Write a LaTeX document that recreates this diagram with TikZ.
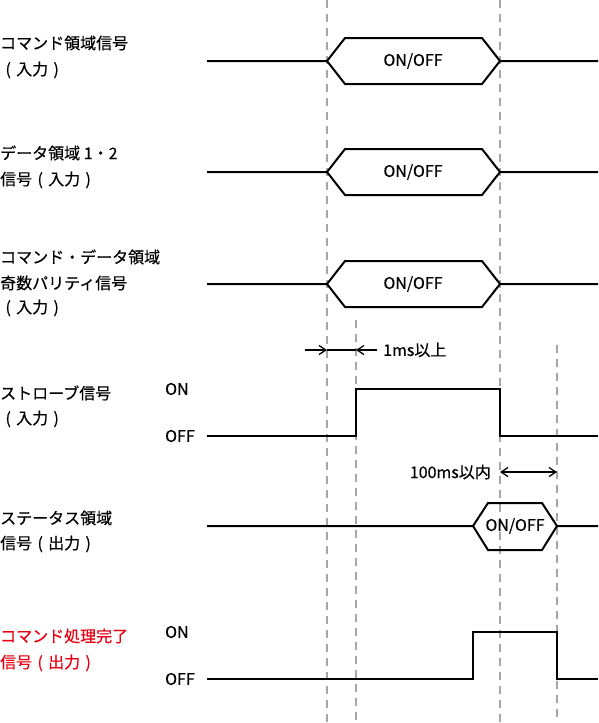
\documentclass[tikz,border=0pt]{standalone}
\usepackage{fontspec}
\setmainfont[FakeBold=0.4]{Noto Sans CJK JP}
\usetikzlibrary{arrows.meta}
\definecolor{donered}{RGB}{230,0,18}
\newcommand{\zp}[1]{\makebox[1em]{#1}}

\begin{document}
\begin{tikzpicture}[x=1pt,y=-1pt,>={Straight Barb[length=2.4mm,width=3.2mm]},
  sig/.style={line width=2pt,line join=miter},
  guide/.style={gray!70,line width=1.3pt,dash pattern=on 8pt off 6pt},
  span/.style={line width=1.3pt},
  lbl/.style={anchor=west,font=\fontsize{16}{16}\selectfont,inner sep=0pt},
  lvl/.style={anchor=west,font=\fontsize{16}{16}\selectfont,inner sep=0pt},
  bus/.style={font=\fontsize{16}{16}\selectfont,inner sep=0pt}]
\useasboundingbox (0,0) rectangle (598,723);

% timing guides
\draw[guide] (327,0) -- (327,723);
\draw[guide] (356,320) -- (356,723);
\draw[guide] (500,0) -- (500,723);
\draw[guide] (557,345) -- (557,723);

% command field
\node[lbl] (cmdA) at (0,43) {コマンド領域信号};
\node[lbl] (cmdB) at (0,70) {\zp{(}入力\zp{)}};
\draw[sig] (207,61) -- (327,61) -- (345,38) -- (482,38) -- (500,61) -- (598,61);
\draw[sig] (327,61) -- (345,84) -- (482,84) -- (500,61);
\node[bus] (cmdv) at (413,61) {ON/OFF};

% data field
\node[lbl] (datA) at (0,153) {データ領域 1・2};
\node[lbl] (datB) at (0,180) {信号\zp{(}入力\zp{)}};
\draw[sig] (207,172) -- (327,172) -- (345,149) -- (482,149) -- (500,172) -- (598,172);
\draw[sig] (327,172) -- (345,195) -- (482,195) -- (500,172);
\node[bus] (datv) at (413,172) {ON/OFF};

% parity
\node[lbl] (parA) at (0,257) {コマンド・データ領域};
\node[lbl] (parB) at (0,283) {奇数パリティ信号};
\node[lbl] (parC) at (0,308) {\zp{(}入力\zp{)}};
\draw[sig] (207,284) -- (327,284) -- (345,261) -- (482,261) -- (500,284) -- (598,284);
\draw[sig] (327,284) -- (345,307) -- (482,307) -- (500,284);
\node[bus] (parv) at (413,284) {ON/OFF};

% 1ms
\draw[span,->] (305,350) -- (327,350);
\draw[span] (327,350) -- (356,350);
\draw[span,->] (377,350) -- (356,350);
\node[lbl] (setup) at (383,350) {1ms以上};

% strobe
\node[lbl] (stbA) at (0,393) {ストローブ信号};
\node[lbl] (stbB) at (0,419) {\zp{(}入力\zp{)}};
\node[lvl] (stbon) at (165,389) {ON};
\node[lvl] (stboff) at (165,436) {OFF};
\draw[sig] (207,436) -- (356,436) -- (356,389) -- (500,389) -- (500,436) -- (598,436);

% 100ms
\draw[span,<->] (500,472) -- (557,472);
\node[lbl,anchor=east] (resp) at (491,472) {100ms以内};

% status
\node[lbl] (staA) at (0,518) {ステータス領域};
\node[lbl] (staB) at (0,544) {信号\zp{(}出力\zp{)}};
\draw[sig] (207,526) -- (473,526) -- (488,503) -- (542,503) -- (557,526) -- (598,526);
\draw[sig] (473,526) -- (488,550) -- (542,550) -- (557,526);
\node[bus] (stav) at (515,526) {ON/OFF};

% done
\node[lbl,text=donered] (donA) at (0,636) {コマンド処理完了};
\node[lbl,text=donered] (donB) at (0,663) {信号\zp{(}出力\zp{)}};
\node[lvl] (donon) at (165,632) {ON};
\node[lvl] (donoff) at (165,679) {OFF};
\draw[sig] (207,679) -- (473,679) -- (473,632) -- (557,632) -- (557,679) -- (598,679);
\end{tikzpicture}
\end{document}
